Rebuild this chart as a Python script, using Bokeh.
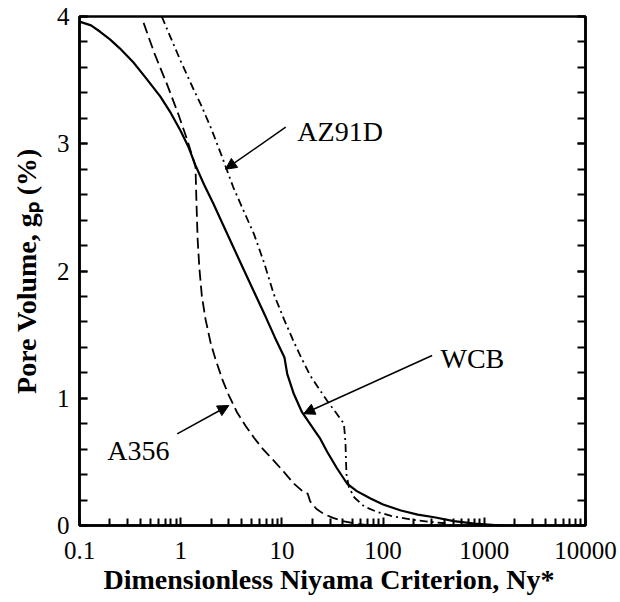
import numpy as np
from bokeh.plotting import figure
from bokeh.models import (FixedTicker, CustomJSTickFormatter, LinearAxis, Label,
                          Arrow, NormalHead, Range1d)
from bokeh.embed import file_html
from bokeh.resources import INLINE

# ---- data ----
wcb_x = [0.1, 0.13, 0.16, 0.2, 0.25, 0.34, 0.45, 0.63, 0.8, 1.0, 1.2, 1.4, 1.7, 2.1,
         2.6, 3.3, 4.2, 5.5, 7.0, 8.5, 10.6, 11.3, 13.1, 15.8, 20.9, 24, 28, 35, 44,
         55, 76, 100, 150, 220, 320, 500, 800, 1500]
wcb_y = [3.96, 3.93, 3.88, 3.82, 3.75, 3.64, 3.52, 3.37, 3.24, 3.10, 2.97, 2.83, 2.68,
         2.53, 2.37, 2.19, 2.01, 1.81, 1.63, 1.48, 1.32, 1.19, 1.035, 0.89, 0.75, 0.68,
         0.58, 0.45, 0.33, 0.27, 0.21, 0.165, 0.118, 0.085, 0.065, 0.035, 0.015, 0.0]

a356_x = [0.43, 0.55, 0.73, 0.95, 1.16, 1.40, 1.43, 1.47, 1.53, 1.62, 1.76, 1.97, 2.2,
          2.6, 3.0, 3.6, 4.4, 5.3, 6.5, 8.3, 10.5, 13.1, 16, 18, 19, 22, 26, 32, 40,
          55, 80]
a356_y = [3.95, 3.71, 3.47, 3.23, 3.03, 2.82, 2.55, 2.25, 2.02, 1.80, 1.62, 1.44, 1.31,
          1.14, 1.02, 0.89, 0.78, 0.69, 0.60, 0.51, 0.42, 0.33, 0.27, 0.25, 0.19, 0.13,
          0.09, 0.06, 0.035, 0.012, 0.0]

az91d_x = [0.65, 0.8, 1.0, 1.3, 1.6, 2.0, 2.5, 3.3, 4.2, 5.3, 6.7, 8.3, 10.5, 13, 15.5,
           19, 23, 28, 34, 41, 42.5, 43, 43.5, 46, 52, 65, 85, 120, 180, 280, 450]
az91d_y = [4.0, 3.83, 3.65, 3.45, 3.30, 3.12, 2.92, 2.66, 2.47, 2.29, 2.06, 1.82, 1.62,
           1.45, 1.32, 1.18, 1.08, 0.98, 0.89, 0.80, 0.65, 0.50, 0.40, 0.30, 0.22, 0.15,
           0.11, 0.075, 0.05, 0.03, 0.015]

x_major = [0.1, 1, 10, 100, 1000, 10000]
x_minor = [m * 10.0 ** k for k in range(-1, 4) for m in range(2, 10)]
y_major = [0, 1, 2, 3, 4]
y_minor = [round(0.2 * i, 1) for i in range(0, 21)]

labels = ["AZ91D", "WCB", "A356"]
label_pos = [(14.2, 3.10), (369, 1.31), (0.188, 0.589)]
arrow_start = [(10.9, 3.13), (305, 1.336), (0.923, 0.72)]
arrow_end = [(2.77, 2.80), (16.4, 0.878), (2.99, 0.943)]

x_title = "Dimensionless Niyama Criterion,  Ny*"
y_title = "Pore Volume, g\u209a (%)"

SERIF = "Liberation Serif"

p = figure(x_axis_type="log", x_range=Range1d(0.1, 10000), y_range=Range1d(0, 4),
           frame_width=506, frame_height=509, output_backend="svg",
           toolbar_location=None, min_border_left=79, min_border_right=33,
           min_border_top=16, min_border_bottom=75)
p.grid.visible = False
p.outline_line_color = "black"
p.outline_line_width = 2.5
p.background_fill_color = "white"
p.border_fill_color = "white"

xt = FixedTicker(ticks=x_major, minor_ticks=x_minor)
yt = FixedTicker(ticks=y_major, minor_ticks=y_minor)

xa = p.xaxis[0]
xa.ticker = xt
xa.formatter = CustomJSTickFormatter(code="return String(tick);")
ya = p.yaxis[0]
ya.ticker = yt

for ax in (xa, ya):
    ax.axis_line_width = 2.5
    ax.axis_line_color = "black"
    ax.major_tick_in = 8
    ax.major_tick_out = 0
    ax.minor_tick_in = 8
    ax.minor_tick_out = 0
    ax.major_tick_line_width = 2
    ax.minor_tick_line_width = 2
    ax.major_label_text_font = SERIF
    ax.major_label_text_font_size = "25px"
    ax.major_label_text_color = "black"
    ax.axis_label_text_font = SERIF
    ax.axis_label_text_font_size = "28px"
    ax.axis_label_text_font_style = "bold"
    ax.axis_label_text_color = "black"
xa.minor_tick_in = 7
xa.major_label_standoff = 16
ya.major_label_standoff = 10
xa.axis_label = x_title
ya.axis_label = y_title
xa.axis_label_standoff = 2
ya.axis_label_standoff = 12

ra = LinearAxis(ticker=yt, axis_line_width=2.5, major_tick_in=8, major_tick_out=0,
                minor_tick_in=8, minor_tick_out=0, major_tick_line_width=2,
                minor_tick_line_width=2,
                formatter=CustomJSTickFormatter(code="return '';"),
                major_label_standoff=0)
p.add_layout(ra, "right")

# curves
p.line(wcb_x, wcb_y, line_color="black", line_width=2.2)
p.line(a356_x, a356_y, line_color="black", line_width=1.8, line_dash="11 5")
p.line(az91d_x, az91d_y, line_color="black", line_width=1.8, line_dash="8 4 2 4")

# arrows and annotation labels
for (xs, ys), (xe, ye) in zip(arrow_start, arrow_end):
    p.add_layout(Arrow(end=NormalHead(size=11, fill_color="black", line_color="black"),
                       x_start=xs, y_start=ys, x_end=xe, y_end=ye,
                       line_width=1.5, line_color="black"))
for t, (lx, ly) in zip(labels, label_pos):
    p.add_layout(Label(x=lx, y=ly, text=t, text_font=SERIF, text_font_size="28px",
                       text_align="left", text_baseline="alphabetic", text_color="black"))

open("out.html", "w").write(file_html(p, INLINE))
